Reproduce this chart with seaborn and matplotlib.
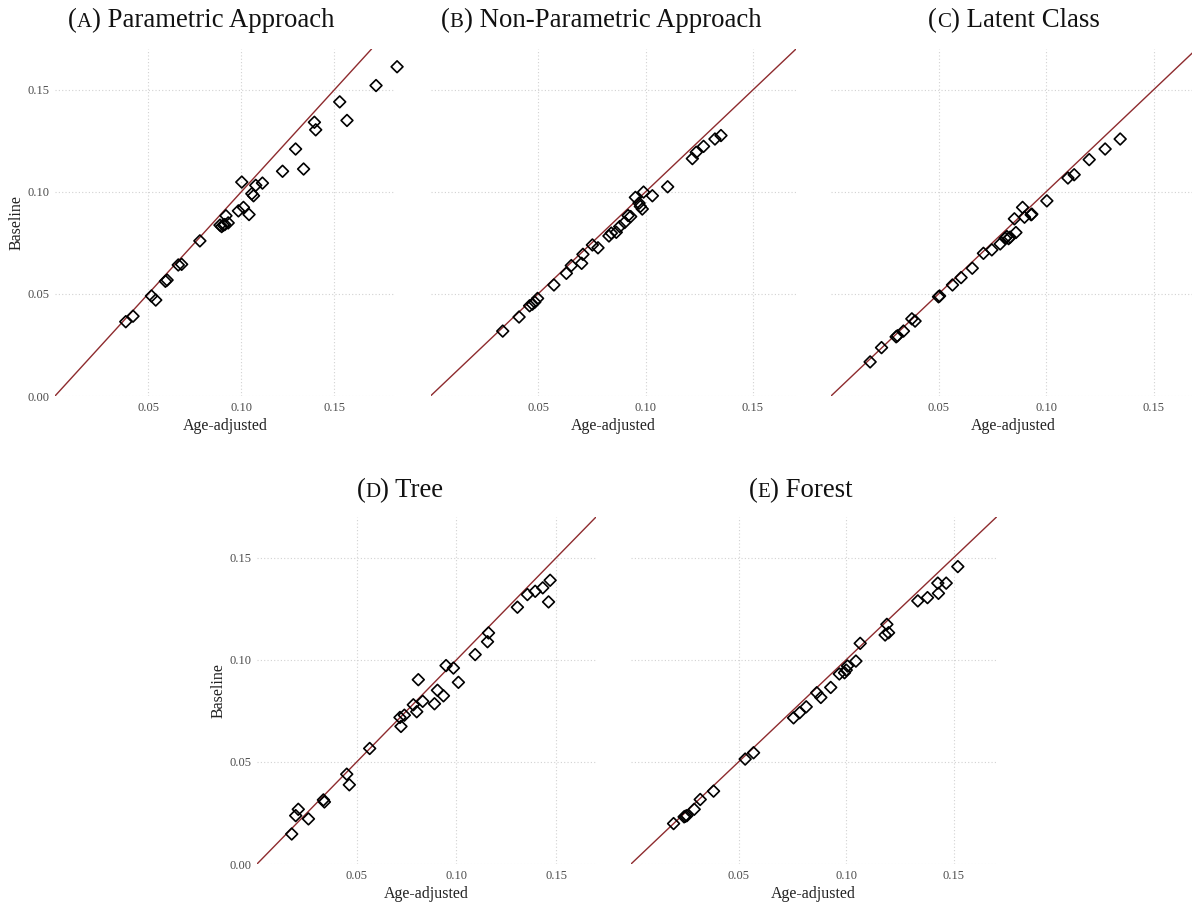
import matplotlib
matplotlib.use('Agg')
import matplotlib.pyplot as plt
import seaborn as sns

# data (age-adjusted vs baseline)
a_x = [0.0380, 0.0419, 0.0518, 0.0541, 0.0593, 0.0602, 0.0662, 0.0680, 0.0778, 0.0886,
       0.0895, 0.0904, 0.0912, 0.0930, 0.0918, 0.0985, 0.1012, 0.1003, 0.1042, 0.1057,
       0.1066, 0.1078, 0.1114, 0.1222, 0.1292, 0.1335, 0.1393, 0.1400, 0.1529, 0.1568,
       0.1724, 0.1837]
a_y = [0.0364, 0.0391, 0.0490, 0.0470, 0.0562, 0.0568, 0.0642, 0.0645, 0.0760, 0.0837,
       0.0830, 0.0837, 0.0840, 0.0848, 0.0883, 0.0907, 0.0924, 0.1048, 0.0889, 0.0991,
       0.0981, 0.1032, 0.1043, 0.1101, 0.1210, 0.1112, 0.1341, 0.1304, 0.1441, 0.1350,
       0.1521, 0.1613]

b_x = [0.0336, 0.0412, 0.0461, 0.0474, 0.0485, 0.0498, 0.0574, 0.0632, 0.0655, 0.0703,
       0.0709, 0.0753, 0.0779, 0.0830, 0.0841, 0.0864, 0.0880, 0.0903, 0.0919, 0.0931,
       0.0953, 0.0970, 0.0976, 0.0985, 0.0991, 0.1032, 0.1103, 0.1218, 0.1236, 0.1270,
       0.1323, 0.1351]
b_y = [0.0318, 0.0387, 0.0442, 0.0450, 0.0460, 0.0478, 0.0544, 0.0601, 0.0639, 0.0650,
       0.0694, 0.0740, 0.0726, 0.0784, 0.0798, 0.0802, 0.0830, 0.0850, 0.0884, 0.0879,
       0.0973, 0.0945, 0.0929, 0.0916, 0.0999, 0.0981, 0.1025, 0.1163, 0.1194, 0.1223,
       0.1259, 0.1276]

c_x = [0.0182, 0.0235, 0.0303, 0.0309, 0.0337, 0.0376, 0.0391, 0.0500, 0.0505, 0.0565,
       0.0605, 0.0657, 0.0709, 0.0748, 0.0787, 0.0810, 0.0818, 0.0826, 0.0833, 0.0860,
       0.0853, 0.0891, 0.0900, 0.0931, 0.0934, 0.1004, 0.1102, 0.1131, 0.1201, 0.1275,
       0.1345]
c_y = [0.0167, 0.0237, 0.0290, 0.0295, 0.0318, 0.0378, 0.0367, 0.0486, 0.0490, 0.0544,
       0.0580, 0.0626, 0.0699, 0.0716, 0.0745, 0.0773, 0.0781, 0.0771, 0.0778, 0.0801,
       0.0868, 0.0924, 0.0876, 0.0888, 0.0891, 0.0956, 0.1068, 0.1084, 0.1158, 0.1210,
       0.1259]

d_x = [0.0174, 0.0194, 0.0207, 0.0258, 0.0333, 0.0338, 0.0450, 0.0463, 0.0565, 0.0717,
       0.0722, 0.0739, 0.0784, 0.0801, 0.0809, 0.0831, 0.0890, 0.0905, 0.0935, 0.0948,
       0.0985, 0.1010, 0.1094, 0.1156, 0.1161, 0.1306, 0.1356, 0.1395, 0.1433, 0.1462,
       0.1470]
d_y = [0.0147, 0.0237, 0.0268, 0.0221, 0.0314, 0.0304, 0.0440, 0.0388, 0.0566, 0.0718,
       0.0674, 0.0729, 0.0780, 0.0746, 0.0903, 0.0797, 0.0785, 0.0851, 0.0824, 0.0972,
       0.0960, 0.0890, 0.1026, 0.1089, 0.1132, 0.1258, 0.1320, 0.1336, 0.1353, 0.1284,
       0.1390]

e_x = [0.0198, 0.0247, 0.0253, 0.0260, 0.0294, 0.0322, 0.0384, 0.0531, 0.0570, 0.0756,
       0.0784, 0.0815, 0.0864, 0.0883, 0.0929, 0.0969, 0.0993, 0.1001, 0.1007, 0.1046,
       0.1066, 0.1182, 0.1198, 0.1190, 0.1334, 0.1379, 0.1427, 0.1430, 0.1466, 0.1520]
e_y = [0.0198, 0.0231, 0.0234, 0.0237, 0.0268, 0.0316, 0.0357, 0.0514, 0.0545, 0.0716,
       0.0741, 0.0770, 0.0839, 0.0816, 0.0865, 0.0931, 0.0937, 0.0950, 0.0970, 0.0994,
       0.1081, 0.1122, 0.1133, 0.1174, 0.1289, 0.1305, 0.1376, 0.1326, 0.1376, 0.1457]

ticks = [0.05, 0.10, 0.15]
tick_labels = ['0.05', '0.10', '0.15']
yticks = [0.00, 0.05, 0.10, 0.15]
ytick_labels = ['0.00', '0.05', '0.10', '0.15']

# letter, rest of title, data, panel box in px (left, top, right, bottom), x max, y labels?, title centre x, title baseline y
panels = [
    ('A', ' Parametric Approach', a_x, a_y, (55, 49, 395.4, 396), 0.1828, True, 201, 27),
    ('B', ' Non-Parametric Approach', b_x, b_y, (430.5, 49, 796, 396), 0.17, False, 601, 27),
    ('C', ' Latent Class', c_x, c_y, (831, 49, 1196.5, 396), 0.17, False, 1014, 27),
    ('D', ' Tree', d_x, d_y, (257, 517, 596, 864), 0.17, True, 400, 497),
    ('E', ' Forest', e_x, e_y, (631, 517, 996.5, 864), 0.17, False, 801, 497),
]

sns.set_theme(style='white')
plt.rcParams['font.family'] = ['Liberation Serif', 'DejaVu Serif']

W, H = 1192, 905
fig = plt.figure(figsize=(W / 100, H / 100), dpi=100)
renderer = fig.canvas.get_renderer()

title_size = 19.3
line_col = '#8E2B2E'


def title(letter, rest, cx, base_y):
    # fake small caps: the letter in a smaller size
    parts = [('(', title_size), (letter, title_size * 0.78), (')' + rest, title_size)]
    texts = []
    for s, fs in parts:
        texts.append(fig.text(0, 1 - base_y / H, s, fontsize=fs, color='#111111',
                              ha='left', va='baseline'))
    widths = [t.get_window_extent(renderer).width for t in texts]
    x = cx - sum(widths) / 2
    for t, w in zip(texts, widths):
        t.set_x(x / W)
        x += w


for letter, rest, xs, ys, box, xmax, show_y, tcx, tby in panels:
    l, t, r, b = box
    ax = fig.add_axes([l / W, 1 - b / H, (r - l) / W, (b - t) / H])
    ax.axline((0, 0), slope=1, color=line_col, lw=1.0, zorder=2)
    sns.scatterplot(x=xs, y=ys, ax=ax, marker='D', s=36, edgecolor='black',
                    linewidth=1.2, zorder=3, clip_on=False)
    ax.collections[-1].set_facecolor('none')
    ax.set_xlim(0, xmax)
    ax.set_ylim(0, 0.17)
    ax.set_xticks(ticks)
    ax.set_xticklabels(tick_labels)
    ax.set_yticks(yticks)
    if show_y:
        ax.set_yticklabels(ytick_labels)
        ax.set_ylabel('Baseline', fontsize=11.5, color='#222222', labelpad=2)
    else:
        ax.set_yticklabels([])
    ax.tick_params(length=0, labelsize=9, labelcolor='#4d4d4d', pad=4)
    ax.grid(True, linestyle=(0, (1, 2)), color='#d2d2d2', lw=0.8)
    for sp in ax.spines.values():
        sp.set_visible(False)
    ax.set_xlabel('Age-adjusted', fontsize=11.5, color='#222222', labelpad=3)
    title(letter, rest, tcx, tby)

fig.savefig('out.png', dpi=100)
